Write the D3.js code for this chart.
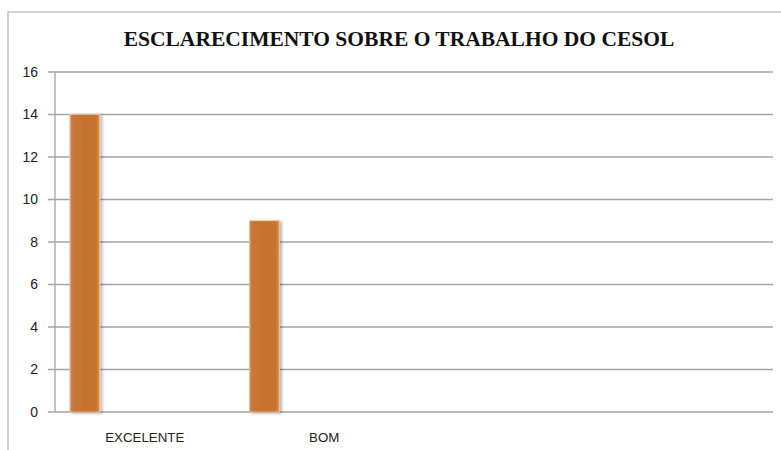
<!DOCTYPE html>
<html>
<head>
<meta charset="utf-8">
<script src="https://cdn.jsdelivr.net/npm/d3@7"></script>
<style>
  html, body { margin: 0; padding: 0; background: #fff; }
  svg { display: block; }
</style>
</head>
<body>
<div id="chart"></div>
<script>
// chart data
const categories = ["EXCELENTE", "BOM", "", ""];
const values = [14, 9, null, null];
const yTicks = [0, 2, 4, 6, 8, 10, 12, 14, 16];
const title = "ESCLARECIMENTO SOBRE O TRABALHO DO CESOL";

const W = 781, H = 450;
const plot = {left: 55, right: 773, top: 72, bottom: 412};

const svg = d3.select("#chart").append("svg")
    .attr("width", W)
    .attr("height", H);

const defs = svg.append("defs");
const grad = defs.append("linearGradient")
    .attr("id", "barGrad")
    .attr("x1", "0%").attr("x2", "100%").attr("y1", "0%").attr("y2", "0%");
grad.selectAll("stop")
    .data([["0%", "#d68c4e"], ["10%", "#c8773a"], ["50%", "#c4722f"], ["88%", "#c5742f"], ["100%", "#dd9c62"]])
    .enter().append("stop")
    .attr("offset", d => d[0])
    .attr("stop-color", d => d[1]);

const shadow = defs.append("filter")
    .attr("id", "shadow")
    .attr("x", "-20%").attr("y", "-5%").attr("width", "150%").attr("height", "110%");
shadow.append("feDropShadow")
    .attr("dx", 2).attr("dy", 1)
    .attr("stdDeviation", 1.5)
    .attr("flood-color", "#000")
    .attr("flood-opacity", 0.3);

// outer frame (extends past the right and bottom edge)
svg.append("path")
    .attr("d", `M8,${H + 5} L8,12 L${W + 5},12`)
    .attr("fill", "none")
    .attr("stroke", "#c4c4c4")
    .attr("stroke-width", 1.5);

// title
svg.append("text")
    .attr("x", 399)
    .attr("y", 46)
    .attr("text-anchor", "middle")
    .attr("font-family", "'Liberation Serif', 'Times New Roman', serif")
    .attr("font-weight", "bold")
    .attr("font-size", "21.5px")
    .attr("fill", "#111")
    .text(title);

const y = d3.scaleLinear()
    .domain([0, 16])
    .range([plot.bottom, plot.top]);

const x = d3.scaleBand()
    .domain(d3.range(categories.length))
    .range([plot.left, plot.right]);

// slots inside each category (bar sits in the first one)
const xs = d3.scaleBand()
    .domain(d3.range(5))
    .range([0, x.bandwidth()])
    .paddingOuter(0.5);

// gridlines
svg.append("g")
    .selectAll("line")
    .data(yTicks)
    .enter().append("line")
    .attr("x1", plot.left - 7)
    .attr("x2", plot.right)
    .attr("y1", d => y(d))
    .attr("y2", d => y(d))
    .attr("stroke", "#a3a3a3")
    .attr("stroke-width", 1.3);

// y axis line
svg.append("line")
    .attr("x1", plot.left).attr("x2", plot.left)
    .attr("y1", plot.top).attr("y2", plot.bottom)
    .attr("stroke", "#a3a3a3")
    .attr("stroke-width", 1.3);

// y tick labels
svg.append("g")
    .selectAll("text")
    .data(yTicks)
    .enter().append("text")
    .attr("x", 38)
    .attr("y", d => y(d))
    .attr("dy", "0.35em")
    .attr("text-anchor", "end")
    .attr("font-family", "'Liberation Sans', Arial, sans-serif")
    .attr("font-size", "14px")
    .attr("fill", "#222")
    .text(d => d);

// bars
svg.append("g")
    .selectAll("rect")
    .data(values.map((v, i) => ({i: i, v: v})).filter(d => d.v != null))
    .enter().append("rect")
    .attr("x", d => x(d.i) + xs(0))
    .attr("width", xs.bandwidth())
    .attr("y", d => y(d.v))
    .attr("height", d => y(0) - y(d.v))
    .attr("fill", "url(#barGrad)")
    .attr("stroke", "#f2c69c")
    .attr("stroke-width", 0.8)
    .attr("filter", "url(#shadow)");

// category labels
svg.append("g")
    .selectAll("text")
    .data(categories)
    .enter().append("text")
    .attr("x", (d, i) => x(i) + x.bandwidth() / 2)
    .attr("y", 442)
    .attr("text-anchor", "middle")
    .attr("font-family", "'Liberation Sans', Arial, sans-serif")
    .attr("font-size", "13.3px")
    .attr("fill", "#222")
    .text(d => d);
</script>
</body>
</html>
